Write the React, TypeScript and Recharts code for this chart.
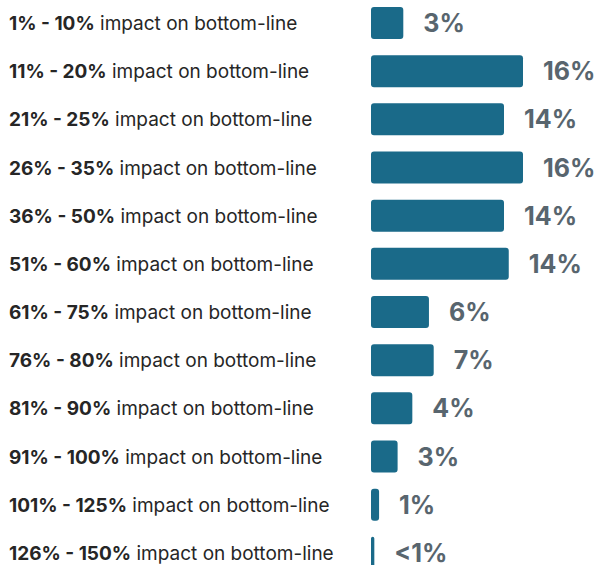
import React from "react";
import { BarChart, Bar, XAxis, YAxis, LabelList } from "recharts";

const ranges = [
  "1% - 10%",
  "11% - 20%",
  "21% - 25%",
  "26% - 35%",
  "36% - 50%",
  "51% - 60%",
  "61% - 75%",
  "76% - 80%",
  "81% - 90%",
  "91% - 100%",
  "101% - 125%",
  "126% - 150%",
];
const shares = [3.4, 16, 14, 16, 14, 14.5, 6.1, 6.6, 4.35, 2.8, 0.85, 0.35];
const shareLabels = ["3%", "16%", "14%", "16%", "14%", "14%", "6%", "7%", "4%", "3%", "1%", "<1%"];

const data = ranges.map((range, i) => ({ range, share: shares[i], label: shareLabels[i] }));

const FONT = "Inter, 'Noto Sans', sans-serif";

function RangeTick(props: any) {
  const { y, payload } = props;
  return (
    <text x={9} y={y} dominantBaseline="central" fontSize={19} fontFamily={FONT} fill="#262626">
      <tspan fontWeight={700}>{payload.value}</tspan>
      <tspan> impact on bottom-line</tspan>
    </text>
  );
}

function ShareLabel(props: any) {
  const { x, y, width, height, value } = props;
  return (
    <text
      x={x + width + 20}
      y={y + height / 2}
      dominantBaseline="central"
      fontSize={25}
      fontWeight={700}
      fontFamily={FONT}
      fill="#58656e"
    >
      {value}
    </text>
  );
}

export default function App() {
  return (
    <div style={{ position: "absolute", left: 0, top: -1 }}>
      <BarChart
        width={596}
        height={578}
        data={data}
        layout="vertical"
        margin={{ top: 0, right: 35, bottom: 0, left: 0 }}
      >
        <XAxis type="number" domain={[0, 20]} hide />
        <YAxis type="category" dataKey="range" width={371} axisLine={false} tickLine={false} tick={<RangeTick />} />
        <Bar dataKey="share" fill="#1a6a89" barSize={32} radius={3} isAnimationActive={false}>
          <LabelList dataKey="label" content={<ShareLabel />} />
        </Bar>
      </BarChart>
    </div>
  );
}
